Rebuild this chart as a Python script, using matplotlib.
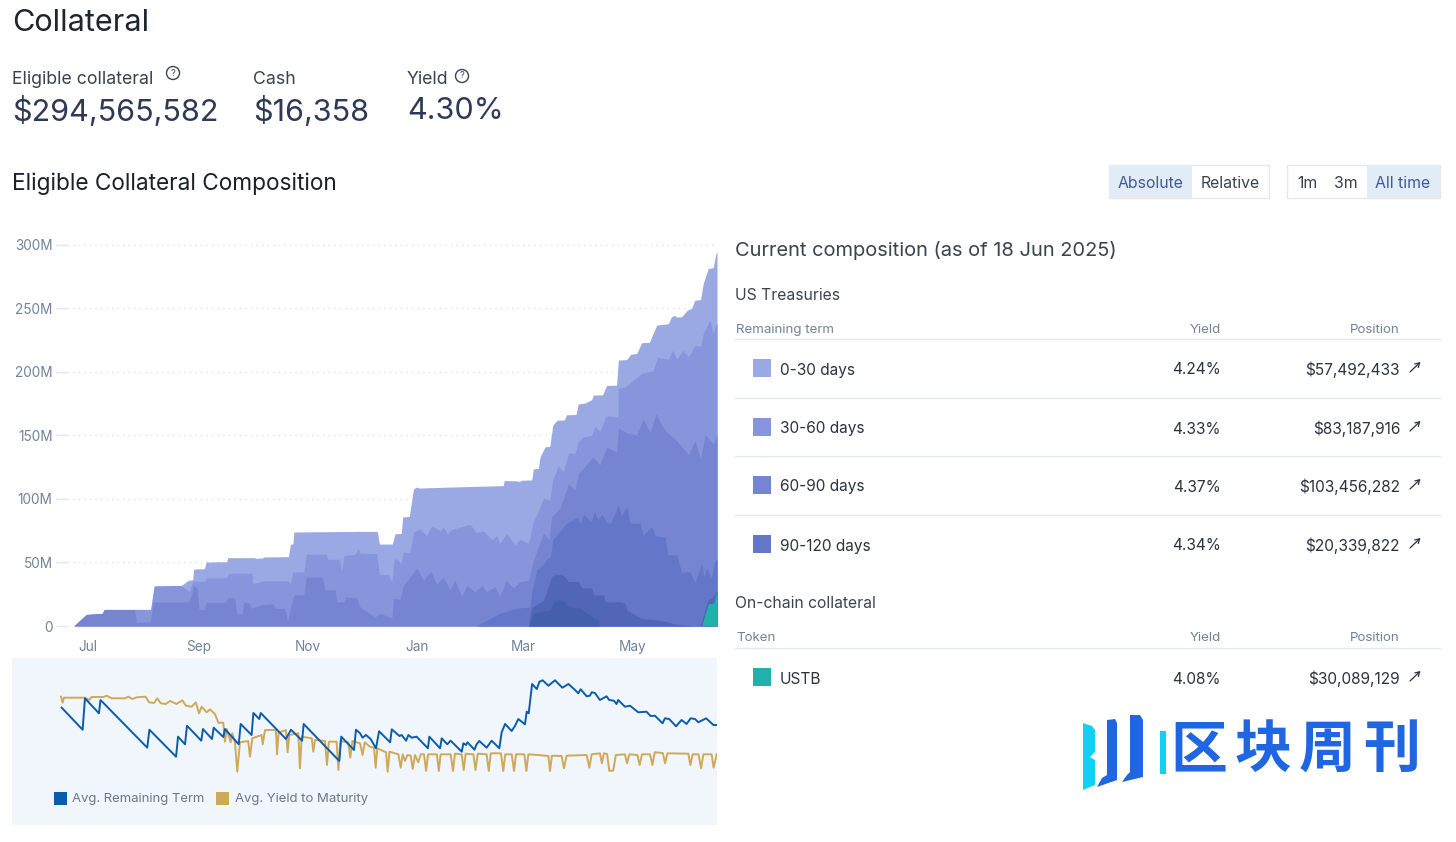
import matplotlib
matplotlib.use("Agg")
import matplotlib.pyplot as plt
import matplotlib.dates as mdates
from matplotlib.patches import Rectangle, Circle, Polygon
import numpy as np

plt.rcParams['font.family'] = ['Inter', 'Noto Sans CJK SC', 'DejaVu Sans']

W, H = 1456, 842
START = mdates.date2num(np.datetime64('2024-07-01'))

# stacked composition, top edge of each band in $M, days since 1 Jul 2024
d_030 = [-8, -1, 8, 9, 35, 37, 52, 56, 58.5, 59, 65, 66, 77.5, 78, 93, 94, 97.5, 98, 112, 113, 114.5, 115,
         152, 161.6, 162.8, 170, 171.5, 175, 175.8, 179.5, 181.8, 183.6, 185, 203, 232, 232.5, 240.4, 241, 241.7,
         247.9, 248.8, 251.6, 252.5, 255.3, 258, 259.6, 262, 266, 267.4, 272.6, 273.9, 277.6, 281.4, 282.3, 287.5,
         289.7, 295.3, 296.3, 301, 303.2, 306.5, 309.3, 313.6, 317.7, 324.2, 326, 327.9, 328.8, 331.6, 334.8, 337.2,
         339, 342.2, 343.7, 346.5, 349.3, 350.8, 351.4]
v_030 = [0, 9.2, 9.7, 13.1, 13.1, 31.5, 31.8, 36, 36.4, 44.8, 45.1, 50.4, 50.6, 53.8, 53.8, 53.3, 53.5, 54.3, 54.6, 64.2, 64.8, 74,
         74.5, 74.5, 64.5, 64.5, 72.6, 72.8, 85.8, 86.3, 108, 109.4, 108.6, 109.4, 110.5, 114.5, 114.2, 113.4, 114.7,
         115, 123.7, 124, 133, 141, 141.5, 158, 162, 162.2, 166.3, 166.5, 174.8, 175.5, 178.2, 181.8, 182,
         189.4, 189.6, 209.3, 209.8, 214, 214.5, 223, 223.3, 236.9, 238, 243.5, 244.5, 243.2, 243.5, 248.6, 250,
         256.5, 257, 269.5, 281.4, 282.2, 293.2, 294.5]

d_3060 = [-8, -1, 8, 9, 35, 37, 52, 56.5, 58, 59, 65, 66, 77.5, 78.5, 91.5, 92, 94, 98, 112, 113, 114.5, 120.5, 122,
          133, 134, 140.5, 141.7, 143, 149, 151, 152, 161.3, 162.8, 167.8, 169.7, 171.1, 173.4, 175, 176, 179.9,
          181.8, 185.5, 189.2, 192, 196.6, 198.5, 200.8, 203, 213.4, 217, 220.8, 225.5, 228.3, 230, 234, 238.5,
          241.3, 246, 248.8, 251.5, 254.4, 258, 259.6, 262.7, 265.5, 268.4, 272, 274, 276.6, 281.4, 283.2,
          286, 289.4, 294.4, 296, 296.3, 300, 309.3, 315.8, 318, 324.2, 326.7, 328.9, 332.3, 335.5, 339.1,
          342.2, 343.7, 347.5, 349.3, 350.8, 351.4]
v_3060 = [0, 9, 10, 13, 13, 31.5, 32, 27, 33.5, 35.5, 35, 38, 38, 41.5, 41.5, 33.5, 34, 35.5, 35.5, 33.5, 42.5, 42.5, 56.5,
          56.5, 52.5, 52.5, 42.5, 55.5, 56.5, 61, 57.5, 57, 40.5, 40.5, 34.5, 53, 52, 49, 58, 58,
          74, 76.5, 71, 79, 75, 78, 72.5, 76, 80, 73.5, 75, 68, 71, 65, 73, 63.8,
          68.3, 65, 82, 90, 100.6, 99, 115, 126, 121.5, 136, 136, 145, 149, 150, 157,
          153, 165.4, 165, 164.5, 187, 188, 199, 201, 211.5, 210, 217, 210, 217, 212, 221,
          220, 230, 241, 230, 238, 238]

d_6090 = [-8, -1, 8, 9, 26, 27, 34.6, 36.5, 56, 58, 59, 61, 62, 65, 66, 76.5, 78, 82, 83, 86, 87, 90, 91, 98, 103.5,
          104.5, 110, 111.5, 113, 115, 120.5, 122, 131, 132.5, 138, 139, 143, 144, 150, 152, 160.3, 163, 169.7, 170.6,
          174.3, 176.2, 179.9, 183.6, 187.3, 191.4, 194.8, 198.5, 202.2, 205, 208.8, 211.6, 216.2, 220, 222.7, 227.4,
          230, 233.5, 237.6, 241.3, 246, 248.6, 251.5, 254.4, 257.5, 259, 263.7, 268.4, 272, 274, 282, 286, 289.7, 295.3,
          296.3, 301, 306.5, 310.2, 314, 317.3, 322.3, 328.9, 335.4, 339.1, 342.2, 344.7, 349.3, 351.4]
v_6090 = [0, 9, 10, 13, 13, 3, 3, 19, 19, 25.5, 32, 29.5, 13, 13, 18.5, 18.5, 22, 22, 9.5, 9.5, 19, 18, 14, 17, 17.5,
          14, 14, 4, 14, 24.5, 24.5, 38.5, 38.5, 28.5, 28.5, 19, 19, 23, 22, 15, 7, 10, 6.5, 21.5,
          21, 32, 38.5, 46, 36, 43, 33, 38.5, 28.5, 36, 23, 32, 27, 32, 27, 31,
          23, 36, 30, 35, 36, 50.6, 62, 73, 68, 86, 93, 112, 107, 120, 133, 127, 141, 137,
          156, 152, 150.5, 163, 152, 167, 154, 146, 135, 146, 131, 151, 143, 151]

d_90120 = [216.9, 230, 239.5, 246.9, 247.9, 250.7, 254, 256, 258.5, 259.6, 262.7, 267.4, 273.7, 275, 277, 281, 283,
           285, 287, 290, 292, 296.3, 298, 301, 302.8, 308.4, 310, 314.9, 317, 322.3, 324, 328.9, 331.7, 336.3, 339,
           342.8, 344, 345.6, 348.4, 350.3, 351.4]
v_90120 = [0, 10, 14, 15, 27, 44, 48, 52, 55, 67.7, 73, 81, 86, 80, 88, 82, 90,
           84, 88, 81, 81, 95, 87, 94, 81, 81, 71.6, 78, 71, 70, 56, 56, 41.5, 43, 34,
           49.6, 39, 45.5, 37.8, 52, 52]

d_long = [246, 248, 254.4, 259, 261.6, 265.5, 268.4, 274, 275.9, 281.4, 282.5, 288, 289, 297, 300, 301,
          309, 320, 329.6, 340, 342, 346.4, 349.4, 351.4]
v_long = [0, 15, 20, 39, 41, 40, 35, 35, 30, 30, 24.4, 24.4, 19, 19, 18, 12.6,
          6, 4.5, 1, 0, 0.5, 20.5, 23, 28]

d_longest = [246.5, 248.8, 258, 261, 265.5, 268.4, 274.9, 278.6, 285, 285.5]
v_longest = [0, 10, 12.6, 20.5, 20.5, 15, 14, 10, 4.7, 0]

d_ustb = [342.8, 346.5, 349.7, 351.4]
v_ustb = [0, 17.5, 18, 28]

band_colors = ['#9AA8E4', '#8796DC', '#7685D2', '#6376C7', '#5166B6', '#4560AA', '#20B2AA']

y_ticks = [0, 50, 100, 150, 200, 250, 300]
y_labels = ['0', '50M', '100M', '150M', '200M', '250M', '300M']

# lower panel, no scale is shown so values are relative height in the panel
d_term = [-14.7, -3, -1.7, 6.1, 7, 33.1, 34.3, 49.2, 50.3, 54.2, 55.3, 63.3, 64.2, 69.3, 70.2, 75.6, 76.5, 84.2, 85.3,
          91.4, 92.4, 95.7, 96.5, 110.6, 113.4, 119.6, 120.5, 140.4, 141.5, 148.6, 149.7, 152, 153.4, 155.3, 157.9,
          160.9, 162.6, 168.8, 169.7, 174, 175.2, 177.7, 179, 180.8, 183.6, 189.9, 190.7, 196.7, 197.6, 200.7, 202.6,
          208.8, 209.7, 211.2, 212, 215.9, 217.1, 218.6, 222.7, 225.5, 229.8, 231.1, 233, 236.7, 238.6, 240.4, 244.1,
          245.1, 246.2, 248.1, 250.7, 252.2, 254, 257.2, 260.9, 265, 268.4, 272.1, 273.9, 275.2, 278.6, 280.4, 281.4,
          283.2, 286, 289.7, 291.2, 293.8, 295.3, 296.2, 300, 302.8, 307.4, 312, 314.3, 316.7, 321, 322.3, 324.7,
          328.5, 331.6, 334.4, 336.7, 339.1, 341, 345.3, 349.4, 351.2]
v_term = [117.3, 95.3, 126.7, 111.7, 125, 77.3, 95.3, 68.3, 88.3, 80.7, 99.3, 84.3, 96, 86, 97.3, 88, 96, 80.7, 101,
          90, 112, 106, 112, 86, 95.3, 84.3, 101, 64, 88.3, 75, 95.3, 91.7, 87.3, 90, 86,
          76.7, 93.7, 82.7, 95.7, 89, 90, 84.3, 90, 87.3, 88.3, 76.7, 88.3, 76.7, 86.7, 80.7, 84.3,
          73.3, 81.7, 80, 82.7, 75.3, 80.7, 84, 77.3, 84.3, 76.7, 92.7, 101, 94, 99.3, 106, 100.7,
          113.3, 111.7, 141, 136, 143.3, 144.7, 139.3, 144.7, 137.3, 141, 135, 131.7, 135.7, 128.7, 129.3, 132.7,
          132, 125, 128.7, 125, 124.3, 121, 125, 118.3, 119.3, 112.7, 113.3, 109, 109.3, 101.7, 106.7, 106,
          98.7, 105, 101, 106.7, 106, 102.7, 106.7, 100, 100]

d_ytm = [-15.1, -14.2, -13.4, -1.7, 0.7, 2, 8.6, 10.4, 13.2, 20.7, 22.5, 24.8, 27.2, 32.2, 34.1, 36.9, 38.7, 40.6, 43.4,
         45.8, 49.5, 52.7, 54.7, 57.9, 60.2, 62, 63.5, 66.3, 68.2, 71, 72.8, 75.6, 76.5, 77.5, 79.7, 80.6, 82.1, 83.4,
         84.9, 89.5, 90.5, 91.8, 97, 97.6, 98.9, 105, 105.6, 106.5, 110.6, 111.5, 112.5, 117.5, 118.4, 119.4, 125,
         125.9, 126.8, 132.4, 133.5, 134.6, 138.9, 139.9, 141, 145.4, 146.5, 147.7, 150, 152, 153.4, 154.6, 157.5,
         159.8, 160.7, 161.6, 166.5, 167.4, 168.4, 173.4, 174.7, 175.8, 177.1, 178.4, 180.3, 181.4, 182.7, 184.5,
         185.9, 187.7, 188.9, 190, 194.9, 196, 197, 202.6, 203.9, 205, 208.8, 209.9, 211, 215.3, 216.5, 217.7, 222.7,
         223.9, 225, 230.7, 232, 233.1, 236.7, 238, 239.1, 243.8, 244.9, 246, 251.6, 257.2, 258.1, 259.2, 264.6, 265.9,
         267.4, 278.6, 280.1, 281.4, 286, 287.1, 288.2, 290, 291.2, 293.4, 294.9, 299.9, 301.2, 302.4, 306.9, 308.2,
         309.5, 314, 315.3, 316.6, 321.1, 322.4, 323.7, 335.4, 336.5, 337.8, 341.1, 342.5, 343.8, 348.4, 349.5, 351.2]
v_ytm = [128.3, 122.3, 127.3, 127.3, 125, 128, 128, 129.3, 126.7, 126.7, 128.3, 126, 127.7, 128.3, 122.7, 122, 126.7, 121.7, 121,
         124, 121, 124.7, 119.3, 118.3, 122.7, 111.7, 118.3, 112.7, 115.7, 110.7, 102.3, 102.3, 83.3, 96, 82.7, 91.7, 82.7, 53.3,
         82.7, 84, 68.3, 86.7, 90, 80.7, 95, 95, 70.7, 92.3, 95, 72.7, 90, 91.7, 56.7, 88.3, 86.7,
         73.3, 85, 84, 60, 83.3, 83.3, 55, 84, 82.7, 67.3, 84, 82.7, 81.7, 70, 82.7, 78.3,
         77.3, 57.3, 76.7, 72.7, 53.3, 73.3, 70.7, 57.3, 70.7, 64, 70, 69.3, 56, 70, 62.7,
         70.7, 70.7, 54, 70.7, 70.7, 54, 70.7, 70.7, 54, 71.3, 70.7, 55, 71.3, 70.7, 55, 71.3, 70.7,
         54, 71.7, 71.7, 54, 70.7, 70.7, 54, 70.7, 70.7, 54, 70.7, 70, 69, 54, 69.3, 69, 56.7,
         69.3, 70, 57.3, 70.7, 71.7, 61.7, 71.7, 71, 54.3, 54.3, 70, 70.7, 61.7, 70.7, 70, 60,
         70.7, 70.7, 60, 72.7, 72, 61.7, 71.7, 71.3, 60, 70.7, 70.7, 56.7, 70.7, 70.7, 57.3, 70.7]

summary_labels = ['Eligible collateral', 'Cash', 'Yield']
summary_values = ['$294,565,582', '$16,358', '4.30%']
treasury_terms = ['0-30 days', '30-60 days', '60-90 days', '90-120 days']
treasury_yields = ['4.24%', '4.33%', '4.37%', '4.34%']
treasury_positions = ['$57,492,433', '$83,187,916', '$103,456,282', '$20,339,822']
logo_chars = ['区', '块', '周', '刊']


def px_axes(x0, y0, x1, y1):
    return fig.add_axes([x0 / W, 1 - y1 / H, (x1 - x0) / W, (y1 - y0) / H])


fig = plt.figure(figsize=(W / 100, H / 100), dpi=100)

# page layer in pixel coordinates for the ui parts
bg = fig.add_axes([0, 0, 1, 1])
bg.set_xlim(0, W)
bg.set_ylim(H, 0)
bg.axis('off')


def put(x, y, s, size, color='#2B3340', ha='left', **kw):
    bg.text(x, y + 2, s, fontsize=size, color=color, ha=ha, va='center', **kw)


def help_icon(x, y, r=6.5):
    bg.add_patch(Circle((x, y), r, fc='none', ec='#3A4656', lw=1))
    put(x, y - 2, '?', 6.8, '#3A4656', ha='center')


def swatch(x, y, size, color):
    bg.add_patch(Rectangle((x, y), size, size, fc=color, ec='none'))


def arrow(x, y):
    bg.annotate('', xy=(x + 5.5, y - 5), xytext=(x - 5, y + 5),
                arrowprops=dict(arrowstyle='->,head_length=0.3,head_width=0.18', color='#2B3340', lw=0.9,
                                shrinkA=0, shrinkB=0))


put(12, 21, 'Collateral', 22.1, '#1E2530')
for x, label in zip([12, 253, 407], summary_labels):
    put(x, 77, label, 12.75, '#39424F')
for x, val in zip([12, 253, 407], summary_values):
    put(x, 109, val, 22, '#2E3A55')
help_icon(173, 73)
help_icon(462, 76)

put(12, 182, 'Eligible Collateral Composition', 16.3, '#1A212B')

# toggles
bg.add_patch(Rectangle((1109, 165), 160, 33, fc='white', ec='#E6EAEE', lw=1))
bg.add_patch(Rectangle((1109, 165), 83, 33, fc='#E1ECF6', ec='none'))
bg.add_patch(Rectangle((1287, 165), 153, 33, fc='white', ec='#E6EAEE', lw=1))
bg.add_patch(Rectangle((1367, 165), 73, 33, fc='#E1ECF6', ec='none'))
put(1151, 181, 'Absolute', 11.4, '#3F5A96', ha='center')
put(1230, 181, 'Relative', 11.4, '#39424F', ha='center')
put(1307, 181, '1m', 11.4, '#39424F', ha='center')
put(1346, 181, '3m', 11.4, '#39424F', ha='center')
put(1403, 181, 'All time', 11.4, '#3F5A96', ha='center')

# right hand tables
put(735, 248, 'Current composition (as of 18 Jun 2025)', 14.45, '#3A4350')
put(735, 293, 'US Treasuries', 11.3, '#3A4350')
put(736, 328, 'Remaining term', 9.6, '#71839A')
put(1221, 328, 'Yield', 9.6, '#71839A', ha='right')
put(1400, 328, 'Position', 9.6, '#71839A', ha='right')
for y in [339, 398, 456, 515, 648]:
    bg.plot([735, 1440], [y, y], color='#E3E8EE', lw=1)

for y, term, yld, pos, col in zip([368, 427, 485, 544], treasury_terms, treasury_yields,
                                  treasury_positions, band_colors):
    swatch(753, y - 9, 18, col)
    put(780, y, term, 11.1, '#2B3340')
    put(1221, y, yld, 11.1, '#2B3340', ha='right')
    put(1400, y, pos, 11.1, '#2B3340', ha='right')
    arrow(1415, y - 1)

put(735, 602, 'On-chain collateral', 11.3, '#3A4350')
put(736, 636, 'Token', 9.6, '#71839A')
put(1221, 636, 'Yield', 9.6, '#71839A', ha='right')
put(1400, 636, 'Position', 9.6, '#71839A', ha='right')
swatch(753, 668, 18, band_colors[6])
put(780, 677, 'USTB', 11.1, '#2B3340')
put(1221, 677, '4.08%', 11.1, '#2B3340', ha='right')
put(1400, 677, '$30,089,129', 11.1, '#2B3340', ha='right')
arrow(1415, 676)

# watermark
bg.add_patch(Polygon([[1083, 723], [1092, 726], [1095, 730], [1095, 752], [1090, 757], [1095, 760], [1095, 785], [1083, 790]],
                     fc='#12D0F5', ec='none'))
bg.add_patch(Polygon([[1107, 720], [1115, 719], [1117, 723], [1117, 780], [1097, 787], [1102, 778], [1107, 775]],
                     fc='#1F66E0', ec='none'))
bg.add_patch(Polygon([[1130, 715], [1140, 715], [1143, 720], [1143, 777], [1122, 782], [1127, 775], [1130, 772]],
                     fc='#1F66E0', ec='none'))
bg.add_patch(Rectangle((1160, 731), 6, 43, fc='#12D0F5', ec='none'))
for x, ch in zip([1199, 1263, 1327, 1392], logo_chars):
    put(x, 750, ch, 41, '#1F66E0', ha='center', fontweight='bold')

# main stacked chart
ax = px_axes(56, 232, 717, 626)
ax.patch.set_alpha(0)
bands = [(d_030, v_030), (d_3060, v_3060), (d_6090, v_6090), (d_90120, v_90120),
         (d_long, v_long), (d_longest, v_longest), (d_ustb, v_ustb)]
for (d, v), col in zip(bands, band_colors):
    ax.fill_between(START + np.array(d), 0, v, color=col, lw=0, zorder=3)
ax.set_xlim(START - 17.9, START + 351.4)
ax.set_ylim(0, 310.2)
ax.xaxis.set_major_locator(mdates.MonthLocator(bymonth=[1, 3, 5, 7, 9, 11]))
ax.xaxis.set_major_formatter(mdates.DateFormatter('%b'))
ax.set_yticks(y_ticks)
ax.set_yticklabels(y_labels)
ax.tick_params(axis='x', length=0, pad=10, labelsize=9.8, labelcolor='#71839A')
ax.tick_params(axis='y', direction='in', length=8.6, width=1, color='#E4E8EC', pad=2.5, labelsize=9.8,
               labelcolor='#71839A')
ax.grid(axis='y', color='#DDE2E8', lw=1, ls=(0, (1, 3)), zorder=1)
for s in ax.spines.values():
    s.set_visible(False)

# lower panel
bg.add_patch(Rectangle((12, 658), 705, 167, fc='#F0F6FC', ec='none'))
ax2 = px_axes(12, 658, 717, 825)
ax2.patch.set_alpha(0)
ax2.plot(START + np.array(d_ytm), v_ytm, color='#CFA95A', lw=1.4, zorder=2)
ax2.plot(START + np.array(d_term), v_term, color='#0B5CAB', lw=1.4, zorder=3)
ax2.set_xlim(START - (88 - 12) / 1.79, START + 351.4)
ax2.set_ylim(0, 167)
ax2.axis('off')
swatch(54, 792, 13, '#0B5CAB')
put(72, 797, 'Avg. Remaining Term', 9.45, '#6E7680')
swatch(216, 792, 13, '#CFA95A')
put(235, 797, 'Avg. Yield to Maturity', 9.45, '#6E7680')

fig.savefig('out.png', dpi=100)
